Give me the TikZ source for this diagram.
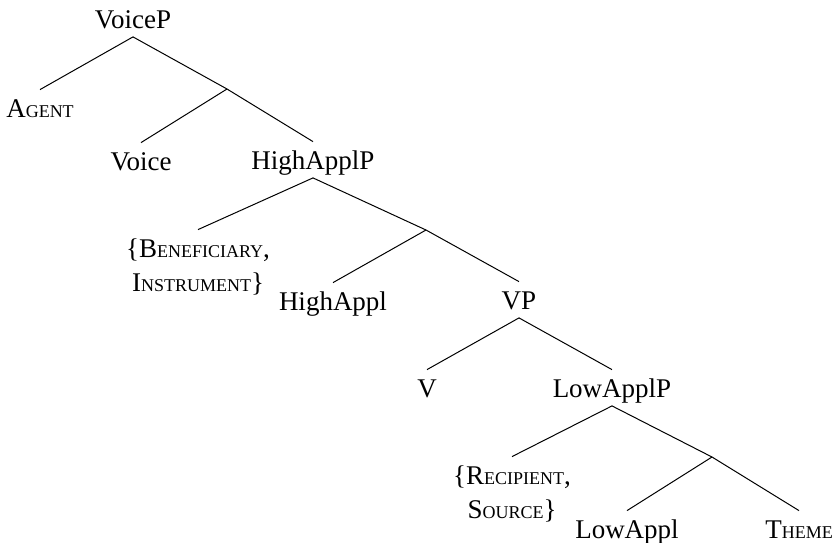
\documentclass[tikz,border=0pt]{standalone}
\usepackage{fontspec}
\setmainfont{Liberation Serif}
\usetikzlibrary{positioning}
\newcommand{\smallcap}[2]{#1{\fontsize{9pt}{10pt}\selectfont #2}}
\tikzset{
  tree/label/.style={anchor=base, inner sep=0pt, text height=13.5pt, text depth=4.25pt,
    align=center, font=\fontsize{13.5pt}{17pt}\selectfont},
  tree/twoline/.style={tree/label, text height=30.5pt},
  tree/edge/.style={line width=0.5pt},
}
\begin{document}
\begin{tikzpicture}[x=0.5pt, y=-0.5pt]
  \useasboundingbox (0,0) rectangle (836,542);
  % Voice layer
  \node[tree/label] (voicep) at (133,28) {VoiceP};
  \node[tree/label] (agent) at (40,117) {\smallcap{A}{GENT}};
  \coordinate (voicebar) at (227,89);
  \node[tree/label] (voice) at (141,170) {Voice};
  \node[tree/label] (highp) at (313,169) {HighApplP};
  % high applicative
  \node[tree/twoline] (benef) at (198,291) {\{\smallcap{B}{ENEFICIARY},\\\smallcap{I}{NSTRUMENT}\}};
  \coordinate (highbar) at (426,230);
  \node[tree/label] (high) at (333,310) {HighAppl};
  \node[tree/label] (vp) at (519,309) {VP};
  % verb
  \node[tree/label] (verb) at (427,397) {V};
  \node[tree/label] (lowp) at (612,397) {LowApplP};
  % low applicative
  \node[tree/twoline] (recip) at (512,518) {\{\smallcap{R}{ECIPIENT},\\\smallcap{S}{OURCE}\}};
  \coordinate (lowbar) at (712,457);
  \node[tree/label] (low) at (627,538) {LowAppl};
  \node[tree/label] (theme) at (799,538) {\smallcap{T}{HEME}};

  \draw[tree/edge] (voicep.south) -- (agent.north);
  \draw[tree/edge] (voicep.south) -- (voicebar) -- (highp.north);
  \draw[tree/edge] (voicebar) -- (voice.north);

  \draw[tree/edge] (highp.south) -- (benef.north);
  \draw[tree/edge] (highp.south) -- (highbar) -- (vp.north);
  \draw[tree/edge] (highbar) -- (high.north);

  \draw[tree/edge] (vp.south) -- (verb.north);
  \draw[tree/edge] (vp.south) -- (lowp.north);

  \draw[tree/edge] (lowp.south) -- (recip.north);
  \draw[tree/edge] (lowp.south) -- (lowbar) -- (theme.north);
  \draw[tree/edge] (lowbar) -- (low.north);
\end{tikzpicture}
\end{document}
